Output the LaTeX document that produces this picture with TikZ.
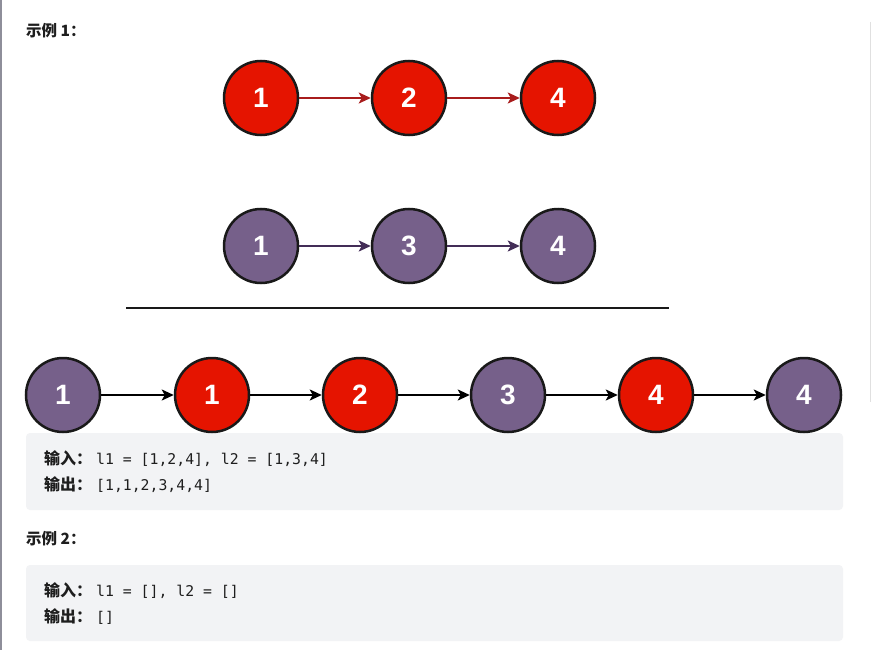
\documentclass[tikz,border=0pt]{standalone}
\usepackage{fontspec}
\setmainfont{Liberation Sans}
\newfontfamily\cjk{Noto Sans CJK SC}
\newfontfamily\codefont{DejaVu Sans Mono}
\usetikzlibrary{arrows.meta}
\definecolor{nred}{HTML}{E51400}
\definecolor{npurple}{HTML}{76608A}
\definecolor{ared}{HTML}{A81C1C}
\definecolor{apurple}{HTML}{432D57}
\definecolor{boxgray}{HTML}{F2F3F5}
\definecolor{txt}{HTML}{1E1E1E}
\definecolor{leftbar}{HTML}{8E8E9A}
\tikzset{
  nodebase/.style={circle, minimum size=74pt, inner sep=0pt, line width=2.5pt, draw=black!90,
    text=white, font=\fontsize{28}{28}\selectfont\bfseries},
  rednode/.style={nodebase, fill=nred},
  purplenode/.style={nodebase, fill=npurple},
  link/.style={line width=2.5pt, -{Stealth[length=12pt,width=11pt,inset=3pt]}},
  codebox/.style={fill=boxgray, rounded corners=4pt, draw=none},
  title/.style={anchor=west, text=txt, inner sep=0pt, font=\cjk\bfseries\fontsize{15.5}{15.5}\selectfont},
  codeline/.style={anchor=west, text=txt, inner sep=0pt},
}
\newcommand{\lbl}[1]{{\cjk\bfseries\fontsize{16}{16}\selectfont #1}\hspace{4pt}}
\newcommand{\cd}[1]{{\codefont\fontsize{14.8}{14.8}\selectfont #1}}
\begin{document}
\begin{tikzpicture}[x=1pt,y=-1pt]
\useasboundingbox (0,0) rectangle (872,650);
\fill[white] (0,0) rectangle (872,650);
% page borders
\draw[line width=2pt, color=leftbar] (1,0) -- (1,650);
\draw[line width=1pt, color=black!12] (870,22) -- (870,402);

\node[title] (t1) at (26,31) {示例 1：};

% list 1
\node[rednode] (a1) at (261,98) {1};
\node[rednode] (a2) at (409,98) {2};
\node[rednode] (a3) at (558,98) {4};
\draw[link, ared] (a1) -- (a2);
\draw[link, ared] (a2) -- (a3);

% list 2
\node[purplenode] (b1) at (261,246) {1};
\node[purplenode] (b2) at (409,246) {3};
\node[purplenode] (b3) at (558,246) {4};
\draw[link, apurple] (b1) -- (b2);
\draw[link, apurple] (b2) -- (b3);

% separator
\coordinate (s1) at (126,308);
\coordinate (s2) at (669,308);
\draw[line width=2.5pt, black!90] (s1) -- (s2);

% code boxes (drawn before merged row so circles overlap)
\fill[codebox] (26,433) rectangle (843,510);
\fill[codebox] (26,565) rectangle (843,641);

% merged list
\node[purplenode] (c1) at (63,395) {1};
\node[rednode] (c2) at (212,395) {1};
\node[rednode] (c3) at (360,395) {2};
\node[purplenode] (c4) at (508,395) {3};
\node[rednode] (c5) at (656,395) {4};
\node[purplenode] (c6) at (804,395) {4};
\draw[link, black] (c1) -- (c2);
\draw[link, black] (c2) -- (c3);
\draw[link, black] (c3) -- (c4);
\draw[link, black] (c4) -- (c5);
\draw[link, black] (c5) -- (c6);

\node[codeline] (in1) at (44,459) {\lbl{输入：}\cd{l1 = [1,2,4], l2 = [1,3,4]}};
\node[codeline] (out1) at (44,485) {\lbl{输出：}\cd{[1,1,2,3,4,4]}};

\node[title] (t2) at (26,539) {示例 2：};

\node[codeline] (in2) at (44,591) {\lbl{输入：}\cd{l1 = [], l2 = []}};
\node[codeline] (out2) at (44,617) {\lbl{输出：}\cd{[]}};
\end{tikzpicture}
\end{document}
